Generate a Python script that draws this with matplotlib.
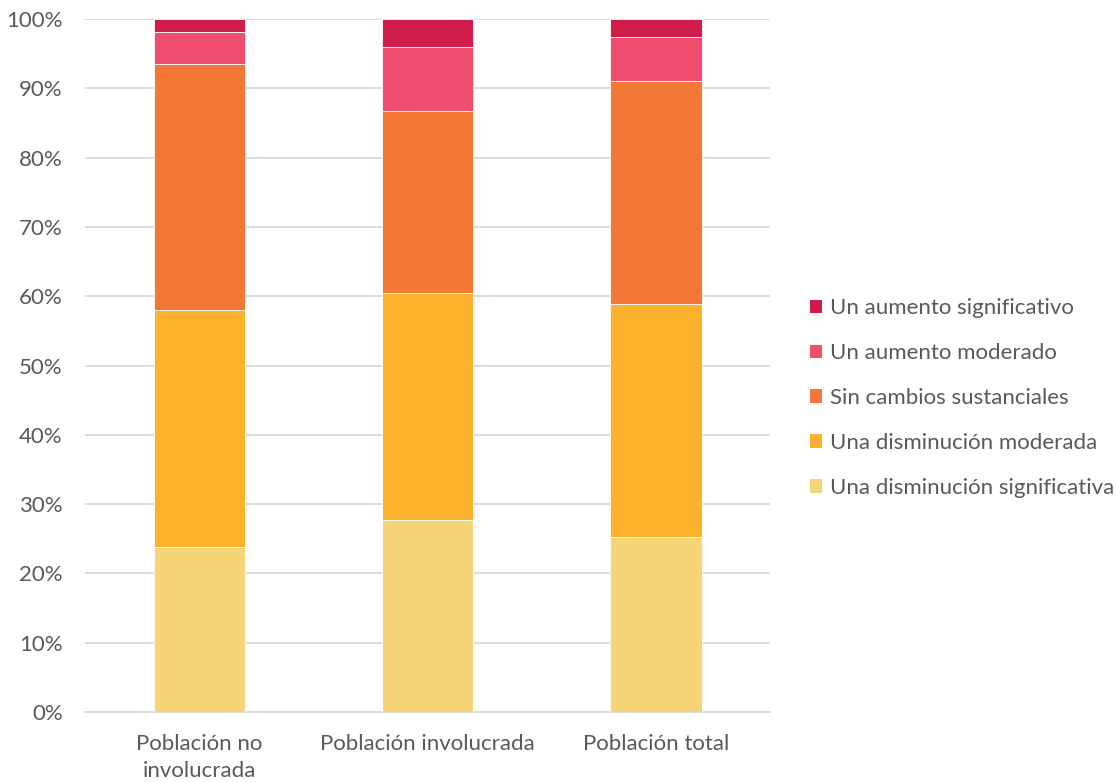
import matplotlib
matplotlib.use("Agg")
import matplotlib.pyplot as plt
from matplotlib.patches import Patch
import numpy as np

categories = ["Población no\ninvolucrada", "Población involucrada", "Población total"]
series_names = ["Una disminución significativa", "Una disminución moderada",
                "Sin cambios sustanciales", "Un aumento moderado", "Un aumento significativo"]
dism_sig = [23.8, 27.7, 25.3]
dism_mod = [34.2, 32.8, 33.6]
sin_camb = [35.5, 26.2, 32.2]
aum_mod = [4.6, 9.3, 6.3]
aum_sig = [1.9, 4.0, 2.6]
colors = ["#F5D576", "#FBB12C", "#F37735", "#F04E6E", "#D01C4B"]

series = [dism_sig, dism_mod, sin_camb, aum_mod, aum_sig]

plt.rcParams['font.family'] = ['Lato', 'DejaVu Sans']
fig = plt.figure(figsize=(11.17, 7.82), dpi=100)
ax = fig.add_axes([85/1117, 70/782, 685/1117, 693/782])

x = np.arange(len(categories))
bottom = np.zeros(len(categories))
for vals, col in zip(series, colors):
    ax.bar(x, vals, width=0.4, bottom=bottom, color=col, edgecolor="#FFFFFF", linewidth=0.6, zorder=3)
    bottom += np.array(vals)

ax.set_xlim(-0.5, 2.5)
ax.set_ylim(0, 100)
ax.set_yticks(np.arange(0, 101, 10))
ax.set_yticklabels([f"{v}%" for v in range(0, 101, 10)])
ax.set_xticks(x)
ax.set_xticklabels(categories, linespacing=1.45)
ax.grid(axis="y", color="#D9D9D9", linewidth=1.3, zorder=0)
for s in ["left", "right", "top"]:
    ax.spines[s].set_visible(False)
ax.spines["bottom"].set_color("#D9D9D9")
ax.spines["bottom"].set_linewidth(1.3)
ax.tick_params(axis="both", length=0, labelsize=16, colors="#595959")
ax.tick_params(axis="x", pad=16)
ax.tick_params(axis="y", pad=16)

handles = [Patch(facecolor=c, label=n) for c, n in zip(colors, series_names)][::-1]
fig.legend(handles=handles, loc="center left", bbox_to_anchor=(810/1117, 1 - 398/782),
           frameon=False, fontsize=16, labelcolor="#595959", handlelength=0.55,
           handleheight=0.55, handletextpad=0.35, labelspacing=1.12, borderaxespad=0,
           borderpad=0)

fig.savefig("out.png", dpi=100)
